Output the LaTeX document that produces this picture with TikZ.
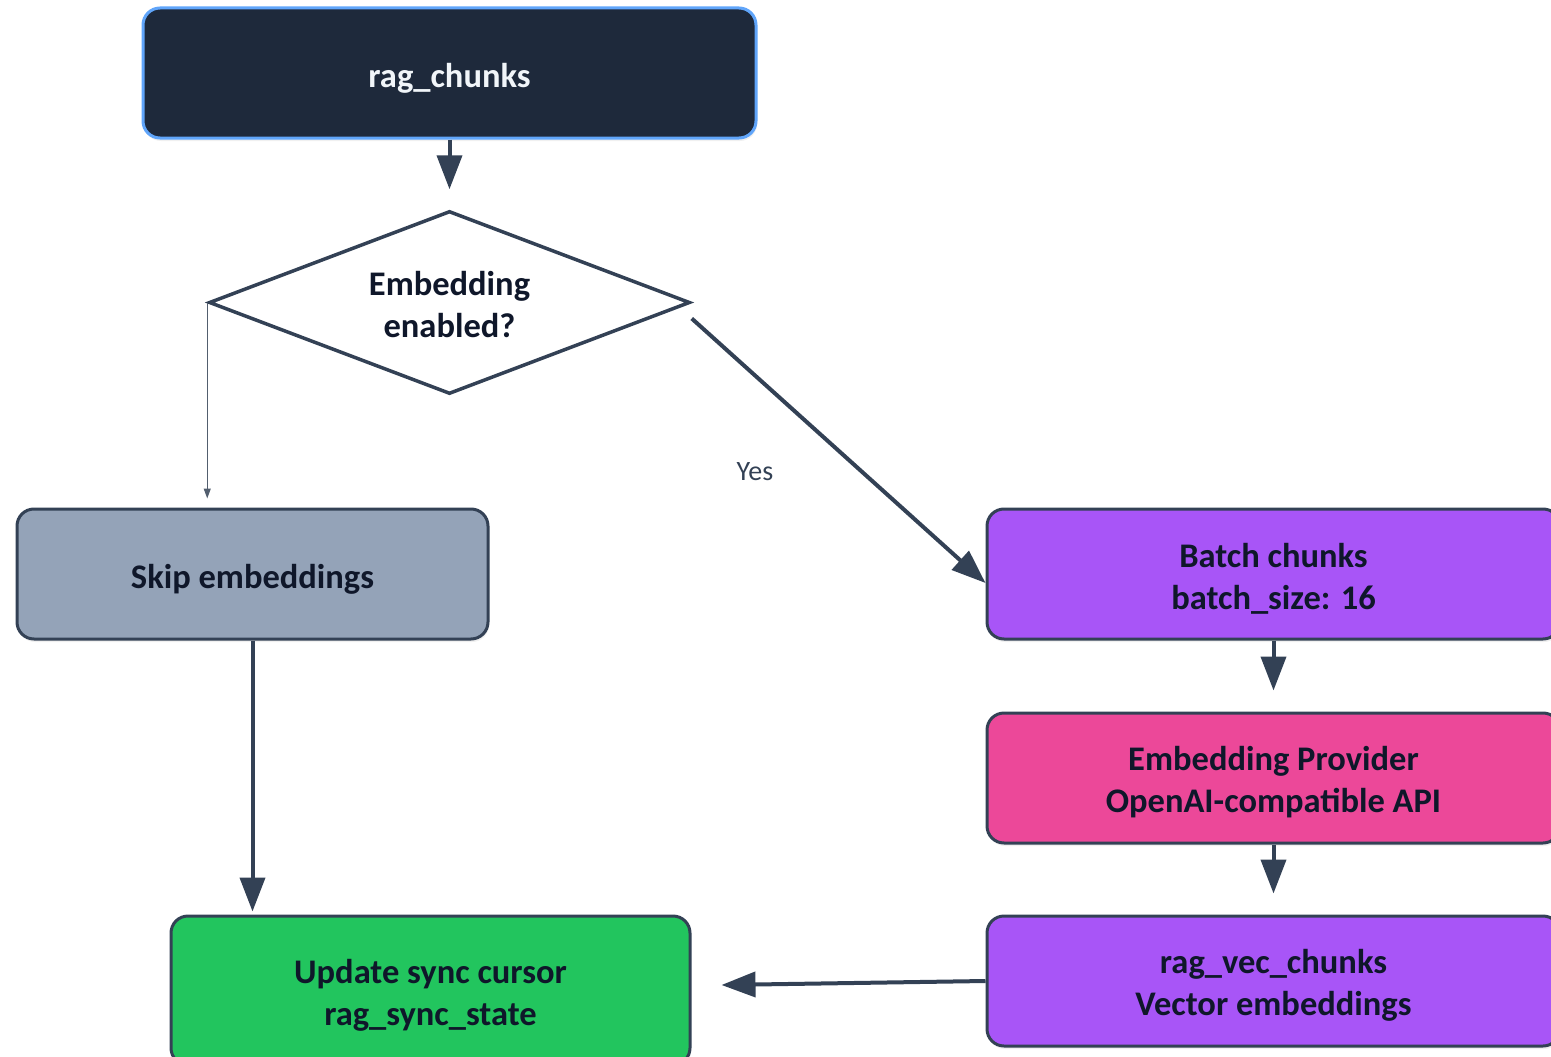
\documentclass[tikz,border=0pt]{standalone}
\usepackage{fontspec}
\setmainfont{Carlito}
\usetikzlibrary{arrows.meta,shapes.geometric,shadows}

\definecolor{navy}{HTML}{1E293B}
\definecolor{skyline}{HTML}{60A5FA}
\definecolor{slateedge}{HTML}{334155}
\definecolor{slatefill}{HTML}{94A3B8}
\definecolor{violetfill}{HTML}{A855F7}
\definecolor{pinkfill}{HTML}{EC4899}
\definecolor{greenfill}{HTML}{22C55E}
\definecolor{inkdark}{HTML}{0F172A}
\definecolor{inklight}{HTML}{F1F5F9}

\tikzset{
  labelfont/.style={font=\fontsize{34.5}{42}\selectfont\bfseries},
  % a taller text box lowers the text a little inside its frame
  onelinetext/.style={text height=34pt},
  twolinetext/.style={text height=#1},
  twolinetext/.default=75pt,
  boxbase/.style={rounded corners=17pt, line width=3pt, draw=slateedge,
    text=inkdark, align=center, inner sep=0pt, labelfont,
    drop shadow={opacity=0.12, shadow xshift=1pt, shadow yshift=-3pt}},
  flowarrow/.style={draw=slateedge, line width=4pt,
    -{Triangle[length=34pt,width=25pt]}},
  thinarrow/.style={draw=slateedge!85, line width=1.2pt,
    -{Triangle[length=10pt,width=7pt]}},
}

\begin{document}
\begin{tikzpicture}[x=1pt,y=-1pt]
  \useasboundingbox (0,0) rectangle (1551,1057);
  \clip (0,0) rectangle (1551,1057);

  % source table
  \node[boxbase, onelinetext, fill=navy, draw=skyline, text=inklight,
        minimum width=613pt, minimum height=130pt] (src) at (449.5,73) {rag\_chunks};

  % decision
  \node[shape=diamond, aspect=2.63, draw=slateedge, line width=3.5pt, fill=white,
        minimum width=481pt, minimum height=183pt, inner sep=0pt, align=center,
        text=inkdark, labelfont, twolinetext=71pt] (dec) at (449.5,302.5)
        {Embedding\\enabled?};

  % branches
  \node[boxbase, onelinetext, fill=slatefill, minimum width=471pt, minimum height=130pt]
        (skip) at (252.5,574) {Skip embeddings};
  \node[boxbase, twolinetext, fill=violetfill, minimum width=573pt, minimum height=130pt]
        (batch) at (1273.5,574) {Batch chunks\\batch\_size: 16};
  \node[boxbase, twolinetext, fill=pinkfill, minimum width=573pt, minimum height=130pt]
        (prov) at (1273.5,778) {Embedding Provider\\OpenAI-compatible API};
  \node[boxbase, twolinetext, fill=violetfill, minimum width=573pt, minimum height=130pt]
        (vec) at (1273.5,981) {rag\_vec\_chunks\\Vector embeddings};
  \node[boxbase, twolinetext, fill=greenfill, minimum width=519pt, minimum height=149pt]
        (sync) at (430.5,990.5) {Update sync cursor\\rag\_sync\_state};

  % edge label
  \node[font=\fontsize{28}{32}\selectfont, text=slateedge] (yes) at (755,472) {Yes};

  % connectors
  \draw[flowarrow] (src.south) -- ([yshift=20pt]dec.north);
  \draw[thinarrow] (dec.west) -- ([yshift=9pt]dec.west |- skip.north);
  \draw[flowarrow] ([yshift=-16pt]dec.east) -- ([yshift=-9pt]batch.west);
  \draw[flowarrow] (batch.south) -- ([yshift=21pt]prov.north);
  \draw[flowarrow] (prov.south) -- ([yshift=21pt]vec.north);
  \draw[flowarrow] (skip.south) -- ([yshift=3pt]skip.south |- sync.north);
  \draw[flowarrow] (vec.west) -- ([xshift=30pt,yshift=5.5pt]sync.east);
\end{tikzpicture}
\end{document}
